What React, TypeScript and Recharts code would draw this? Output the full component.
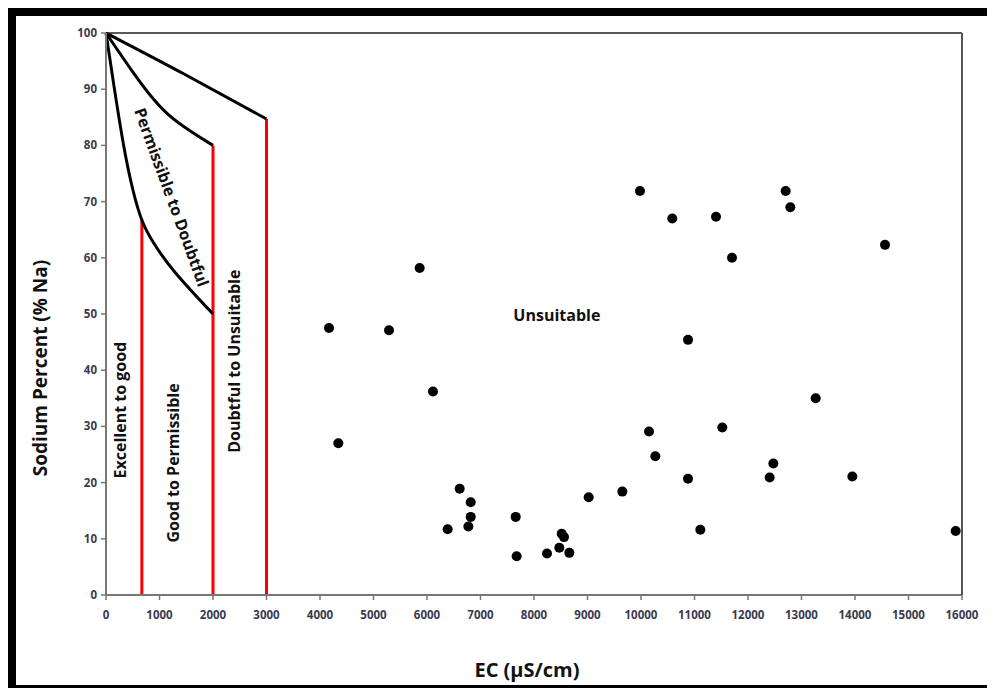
import { ComposedChart, XAxis, YAxis, Line, Scatter } from 'recharts';

// boundary curves of the Wilcox diagram
const curveExcellent = [
  { x: 0, y: 100 },
  { x: 150, y: 90.5 },
  { x: 330, y: 80 },
  { x: 500, y: 72.2 },
  { x: 675, y: 66.6 },
  { x: 900, y: 62.5 },
  { x: 1300, y: 57.3 },
  { x: 2000, y: 50 },
];
const curvePermissible = [
  { x: 0, y: 100 },
  { x: 520, y: 92.8 },
  { x: 1150, y: 85.6 },
  { x: 2000, y: 80 },
];
const curveDoubtful = [
  { x: 0, y: 100 },
  { x: 1460, y: 92.7 },
  { x: 3000, y: 84.7 },
];

const redLine1 = [{ x: 670, y: 0 }, { x: 670, y: 66.8 }];
const redLine2 = [{ x: 2000, y: 0 }, { x: 2000, y: 80 }];
const redLine3 = [{ x: 3000, y: 0 }, { x: 3000, y: 84.7 }];

// samples: EC (µS/cm), Na %
const samples = [
  { x: 4168, y: 47.5 },
  { x: 4343, y: 27.0 },
  { x: 5290, y: 47.1 },
  { x: 5863, y: 58.2 },
  { x: 6112, y: 36.2 },
  { x: 6386, y: 11.7 },
  { x: 6611, y: 18.9 },
  { x: 6817, y: 16.5 },
  { x: 6817, y: 13.9 },
  { x: 6773, y: 12.2 },
  { x: 7658, y: 13.9 },
  { x: 7676, y: 6.9 },
  { x: 8243, y: 7.4 },
  { x: 8473, y: 8.4 },
  { x: 8517, y: 10.9 },
  { x: 8561, y: 10.3 },
  { x: 8660, y: 7.5 },
  { x: 9022, y: 17.4 },
  { x: 9651, y: 18.4 },
  { x: 9981, y: 71.9 },
  { x: 10150, y: 29.1 },
  { x: 10268, y: 24.7 },
  { x: 10585, y: 67.0 },
  { x: 10879, y: 45.4 },
  { x: 10879, y: 20.7 },
  { x: 11109, y: 11.6 },
  { x: 11402, y: 67.3 },
  { x: 11520, y: 29.8 },
  { x: 11701, y: 60.0 },
  { x: 12405, y: 20.9 },
  { x: 12474, y: 23.4 },
  { x: 12704, y: 71.9 },
  { x: 12791, y: 69.0 },
  { x: 13265, y: 35.0 },
  { x: 13950, y: 21.1 },
  { x: 14561, y: 62.3 },
  { x: 15882, y: 11.4 },
];

const regionLabels = [
  { x: 268, y: 32.9, text: 'Excellent to good', angle: -90 },
  { x: 1255, y: 23.5, text: 'Good to Permissible', angle: -90 },
  { x: 2384, y: 41.6, text: 'Doubtful to Unsuitable', angle: -90 },
  { x: 1230, y: 70.8, text: 'Permissible to Doubtful', angle: 70 },
  { x: 8427, y: 49.8, text: 'Unsuitable', angle: 0 },
];

const xTicks = [0, 1000, 2000, 3000, 4000, 5000, 6000, 7000, 8000, 9000, 10000, 11000, 12000, 13000, 14000, 15000, 16000];
const yTicks = [0, 10, 20, 30, 40, 50, 60, 70, 80, 90, 100];

const font = '"Open Sans", sans-serif';
const tickStyle = { fill: '#3a3a50', fontSize: 11.5, fontWeight: 700, fontFamily: font };
const titleStyle = { fontSize: 20, fontWeight: 700, fontFamily: font, fill: '#111' };

const Dot = (p: any) => <circle cx={p.cx} cy={p.cy} r={5} fill="#000" />;

const RegionText = (p: any) => (
  <text
    x={p.cx}
    y={p.cy}
    textAnchor="middle"
    dominantBaseline="central"
    transform={`rotate(${p.payload.angle}, ${p.cx}, ${p.cy})`}
    fontFamily={font}
    fontWeight={700}
    fontSize={16}
    fill="#111"
  >
    {p.payload.text}
  </text>
);

const XTitle = () => (
  <text x={527} y={669} textAnchor="middle" dominantBaseline="central" style={titleStyle}>
    EC (µS/cm)
  </text>
);

const YTitle = () => (
  <text
    x={40}
    y={368}
    textAnchor="middle"
    dominantBaseline="central"
    transform="rotate(-90, 40, 368)"
    style={{ ...titleStyle, fontSize: 19 }}
  >
    Sodium Percent (% Na)
  </text>
);

export default function App() {
  return (
    <div style={{ position: 'relative', width: 987, height: 680 }}>
      <div
        style={{
          position: 'absolute',
          inset: 0,
          boxSizing: 'border-box',
          borderTop: '8px solid #000',
          borderLeft: '8px solid #000',
          borderBottom: '3px solid #000',
        }}
      />
      <div style={{ position: 'absolute', left: -8, top: -8 }}>
        <ComposedChart width={995} height={688} margin={{ top: 32, right: 32, bottom: 13, left: 46 }}>
          <XAxis
            type="number"
            dataKey="x"
            domain={[0, 16000]}
            ticks={xTicks}
            interval={0}
            tick={tickStyle}
            tickSize={5}
            tickMargin={11}
            axisLine={{ stroke: '#777', strokeWidth: 2 }}
            tickLine={{ stroke: '#777', strokeWidth: 1.5 }}
            height={80}
            label={<XTitle />}
          />
          <XAxis
            xAxisId="top"
            orientation="top"
            type="number"
            domain={[0, 16000]}
            tick={false}
            tickLine={false}
            height={1}
            axisLine={{ stroke: '#222', strokeWidth: 1.5 }}
          />
          <YAxis
            type="number"
            domain={[0, 100]}
            ticks={yTicks}
            interval={0}
            tick={tickStyle}
            tickSize={5}
            tickMargin={4}
            width={60}
            axisLine={{ stroke: '#777', strokeWidth: 2 }}
            tickLine={{ stroke: '#777', strokeWidth: 1.5 }}
            label={<YTitle />}
          />
          <YAxis
            yAxisId="right"
            orientation="right"
            type="number"
            domain={[0, 100]}
            tick={false}
            tickLine={false}
            width={1}
            axisLine={{ stroke: '#555', strokeWidth: 2 }}
          />
          <Line data={redLine1} dataKey="y" type="linear" stroke="#ff0000" strokeWidth={3} dot={false} isAnimationActive={false} />
          <Line data={redLine2} dataKey="y" type="linear" stroke="#ff0000" strokeWidth={3} dot={false} isAnimationActive={false} />
          <Line data={redLine3} dataKey="y" type="linear" stroke="#ff0000" strokeWidth={3} dot={false} isAnimationActive={false} />
          <Line data={curveExcellent} dataKey="y" type="natural" stroke="#000" strokeWidth={3} dot={false} isAnimationActive={false} />
          <Line data={curvePermissible} dataKey="y" type="natural" stroke="#000" strokeWidth={3} dot={false} isAnimationActive={false} />
          <Line data={curveDoubtful} dataKey="y" type="natural" stroke="#000" strokeWidth={3} dot={false} isAnimationActive={false} />
          <Scatter data={samples} dataKey="y" shape={Dot} isAnimationActive={false} />
          <Scatter data={regionLabels} dataKey="y" shape={RegionText} isAnimationActive={false} />
        </ComposedChart>
      </div>
    </div>
  );
}
